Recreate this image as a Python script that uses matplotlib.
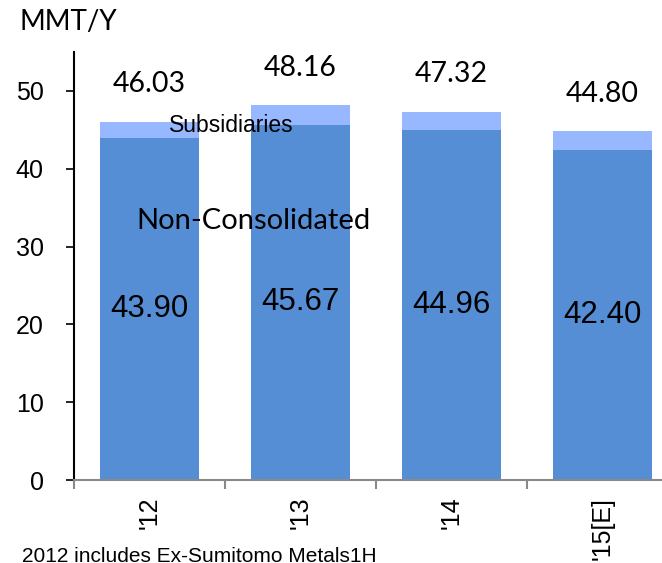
import matplotlib
matplotlib.use("Agg")
import matplotlib.pyplot as plt
import numpy as np

# Data
years = ["'12", "'13", "'14", "'15[E]"]
non_consolidated = [43.90, 45.67, 44.96, 42.40]
totals = [46.03, 48.16, 47.32, 44.80]
subsidiaries = [t - n for t, n in zip(totals, non_consolidated)]

dark_blue = "#558ed5"
light_blue = "#97b8ff"
arial = "Liberation Sans"
calibri = "Lato"

fig = plt.figure(figsize=(6.62, 5.63), dpi=100)
ax = fig.add_axes([74 / 662, 1 - 480 / 563, 604 / 662, 428 / 563])

x = np.arange(len(years))
ax.bar(x, non_consolidated, width=0.65, color=dark_blue, zorder=2)
ax.bar(x, subsidiaries, width=0.65, bottom=non_consolidated,
       color=light_blue, zorder=2)

for xi, n, t in zip(x, non_consolidated, totals):
    ax.text(xi, t + 4.8, f"{t:.2f}", ha="center", va="center",
            fontsize=20.5, family=calibri, color="black")
    ax.text(xi, n / 2, f"{n:.2f}", ha="center", va="center",
            fontsize=22.5, family=arial, color="black")

ax.text(0.54, 45.5, "Subsidiaries", ha="center", va="center",
        fontsize=16.5, family=arial)
ax.text(0.69, 33.3, "Non-Consolidated", ha="center", va="center",
        fontsize=21, family=calibri)

ax.set_xlim(-0.5, 3.5)
ax.set_ylim(0, 55)
ax.set_yticks(range(0, 51, 10))
ax.set_xticks(x)
ax.set_xticklabels(years, rotation=90, family=arial, fontsize=18)
ax.set_xticks(np.arange(-0.5, 4, 1), minor=True)
ax.tick_params(axis="x", which="major", length=0, pad=12)
ax.tick_params(axis="x", which="minor", length=6.5, color="#898989", width=1.5)
ax.tick_params(axis="y", length=5.8, width=1.2, pad=16, labelsize=18)
for lbl in ax.get_yticklabels():
    lbl.set_family(arial)

ax.spines["top"].set_visible(False)
ax.spines["right"].set_visible(False)
ax.spines["left"].set_linewidth(1.5)
ax.spines["bottom"].set_color("#898989")
ax.spines["bottom"].set_linewidth(1.5)

fig.text(20 / 662, 1 - 22 / 563, "MMT/Y", ha="left", va="center",
         fontsize=20, family=calibri)
fig.text(22 / 662, 1 - 547 / 563, "2012 includes Ex-Sumitomo Metals1H",
         ha="left", va="top", fontsize=15, family=arial)

fig.savefig("out.png", dpi=100)
